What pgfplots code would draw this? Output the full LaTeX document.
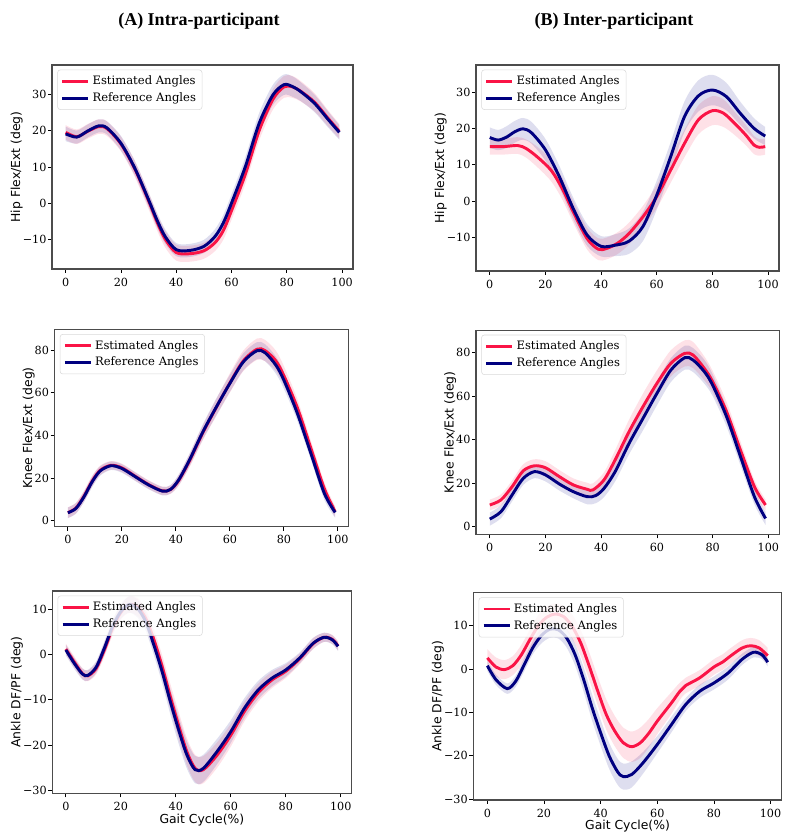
\documentclass[border=0pt]{standalone}
\usepackage{fontspec}
\setmainfont{DejaVu Serif}
\newfontfamily\titlefont{Liberation Serif}
\newfontfamily\labfont{DejaVu Sans}
\usepackage{pgfplots}
\pgfplotsset{compat=1.18}
\usepgfplotslibrary{fillbetween}
\usepackage{pgfplotstable}

\definecolor{est}{RGB}{250,20,70}
\definecolor{refc}{RGB}{0,0,128}

% ---------- Hip, intra ----------
\pgfplotstableread{
x y s
0 19.5 2.0
4 18.3 2.0
8 19.8 2.0
12 21.1 2.0
15 20.5 2.0
20 16.3 2.0
25 9.5 2.2
30 0.7 2.3
33 -5.0 2.3
36 -9.8 2.3
40 -13.5 2.2
45 -13.8 2.2
50 -13.0 2.2
54 -10.8 2.3
57 -7.5 2.5
60 -2.0 2.5
65 8.0 2.6
70 20.0 2.7
75 28.6 2.8
79 32.0 3.0
82 32.0 3.0
85 30.8 2.8
90 27.8 2.5
95 23.3 2.2
99 19.8 2.0
}\hipAe
\pgfplotstableread{
x y s
0 19.1 2.0
4 18.2 1.8
8 19.9 1.8
12 21.3 1.8
15 20.7 1.8
20 16.5 2.0
25 9.7 2.0
30 1.0 2.0
33 -4.5 2.0
36 -9.1 2.0
40 -12.7 1.8
45 -12.9 1.8
50 -11.8 1.8
54 -9.1 2.0
57 -5.4 2.2
60 0.1 2.4
65 10.1 2.6
70 22.0 2.8
75 29.8 2.8
79 32.6 2.8
82 32.1 2.8
85 30.7 2.6
90 27.5 2.4
95 23.0 2.2
99 19.5 2.0
}\hipAr
% ---------- Hip, inter ----------
\pgfplotstableread{
x y s
0 15.0 2.2
5 15.0 2.2
10 15.3 2.3
13 14.5 2.5
17 12.2 2.8
22 8.5 3.0
26 3.5 3.0
30 -3.0 3.0
35 -10.4 3.0
39 -13.3 3.0
42 -13.1 3.0
46 -11.6 3.0
50 -9.0 3.0
55 -4.4 3.0
60 1.2 3.2
65 8.5 3.5
70 15.9 3.8
75 22.4 4.0
80 24.9 4.0
84 24.2 3.8
88 21.4 3.2
92 18.2 2.8
95 15.4 2.5
97 14.8 2.3
99 15.0 2.2
}\hipBe
\pgfplotstableread{
x y s
0 17.5 2.8
3 16.8 2.8
6 17.6 3.0
9 19.1 3.0
12 19.9 3.0
15 18.8 3.0
20 14.1 3.0
25 6.7 3.0
30 -2.1 3.0
35 -9.4 3.0
40 -12.5 2.8
45 -12.2 3.0
50 -11.1 3.5
55 -7.1 4.0
60 1.6 4.0
65 12.2 4.0
70 23.3 4.2
75 29.0 4.3
80 30.6 4.2
85 28.8 3.8
90 24.2 3.2
95 20.0 2.8
99 17.9 2.5
}\hipBr
% ---------- Knee, intra ----------
\pgfplotstableread{
x y s
0 3.8 2.5
3 6.0 2.5
6 11.6 2.5
9 18.6 2.5
12 23.7 2.2
16 26.0 2.0
20 24.8 2.0
25 20.8 2.0
30 16.9 2.0
35 14.0 2.0
38 14.6 2.0
41 18.8 2.5
45 28.0 3.0
50 41.3 3.5
55 53.2 4.0
60 64.6 4.5
65 75.0 4.8
70 80.4 5.0
73 79.8 5.0
77 75.0 4.8
80 68.0 4.5
85 53.0 4.0
90 34.0 3.5
95 15.0 3.0
99 4.2 2.5
}\kneeAe
\pgfplotstableread{
x y s
0 3.75 2.5
3 5.8 2.5
6 11.3 2.5
9 18.3 2.5
12 23.4 2.2
16 25.8 2.0
20 24.5 2.0
25 20.6 2.0
30 16.7 2.0
35 13.9 2.0
38 14.7 2.0
41 19.1 2.5
45 28.4 3.0
50 41.7 3.5
55 53.4 4.0
60 64.4 4.0
65 74.5 4.0
70 79.7 4.0
73 78.8 4.0
77 73.0 4.0
80 65.9 4.0
85 50.3 3.5
90 31.6 3.0
95 12.8 3.0
99 3.9 2.5
}\kneeAr
% ---------- Knee, inter ----------
\pgfplotstableread{
x y s
0 10.0 2.5
4 12.3 2.5
8 18.4 2.8
12 25.7 3.0
16 28.0 3.0
20 27.1 3.0
25 23.0 3.0
30 19.2 3.0
35 17.2 3.0
37 16.9 3.0
41 21.5 3.5
45 30.7 4.5
50 43.7 5.5
55 55.2 6.0
60 65.9 6.0
65 75.1 6.0
70 79.7 6.0
73 78.9 6.0
77 72.8 5.5
80 66.7 5.0
85 52.9 4.5
90 35.2 4.0
95 18.4 3.0
99 10.0 2.5
}\kneeBe
\pgfplotstableread{
x y s
0 3.5 3.0
4 6.9 3.0
8 14.6 3.0
12 22.2 3.0
16 25.3 3.0
20 23.8 3.0
25 19.6 3.0
30 16.1 3.0
35 13.8 3.5
38 14.3 3.5
41 17.6 4.0
45 25.3 4.5
50 38.3 5.0
55 49.8 5.5
60 61.3 5.5
65 72.0 5.5
70 77.7 5.5
73 76.6 5.5
77 71.3 5.5
80 65.1 5.0
85 50.6 4.5
90 32.2 4.0
95 13.8 3.5
99 3.8 3.0
}\kneeBr
% ---------- Ankle, intra ----------
\pgfplotstableread{
x y s
0 1.2 1.2
3 -1.6 1.2
6 -4.2 1.2
8 -4.7 1.2
11 -3.1 1.3
14 1.0 1.5
17 5.8 1.5
20 9.3 1.6
23 11.0 1.8
26 10.5 2.0
29 8.0 2.0
32 3.3 2.2
35 -2.6 2.5
38 -9.3 2.8
41 -15.6 3.0
44 -21.4 3.0
47 -25.1 3.0
50 -25.4 3.0
55 -22.2 2.8
60 -17.8 2.5
65 -12.5 2.2
70 -8.4 2.0
75 -5.6 1.8
80 -3.7 1.5
85 -1.0 1.2
90 2.4 1.2
94 3.8 1.0
97 3.3 1.0
99 1.9 1.0
}\ankAe
\pgfplotstableread{
x y s
0 1.0 1.2
3 -1.9 1.2
6 -4.3 1.2
8 -4.6 1.2
11 -2.8 1.3
14 1.4 1.5
17 6.2 1.5
20 9.5 1.6
23 11.0 1.8
26 10.2 2.0
29 7.3 2.0
32 2.1 2.2
35 -3.75 2.5
38 -10.4 2.8
41 -16.6 3.0
44 -22.1 3.0
47 -25.4 3.0
50 -25.1 3.0
55 -21.4 2.8
60 -17.0 2.5
65 -11.8 2.2
70 -7.8 2.0
75 -5.2 1.8
80 -3.4 1.5
85 -0.8 1.2
90 2.5 1.2
94 3.8 1.0
97 3.2 1.0
99 1.8 1.0
}\ankAr
% ---------- Ankle, inter ----------
\pgfplotstableread{
x y s
0 2.6 2.0
3 0.5 2.2
6 -0.1 2.2
9 0.8 2.2
12 3.3 2.3
15 6.8 2.3
18 10.0 2.5
21 12.0 2.5
24 12.7 2.5
27 12.1 2.5
30 9.8 2.8
33 6.0 3.0
36 0.65 3.2
39 -5.1 3.3
42 -10.5 3.5
45 -14.3 3.5
48 -17.0 3.5
51 -17.9 3.5
54 -17.0 3.5
57 -14.8 3.3
60 -12.0 3.0
65 -7.8 2.5
68 -5.1 2.0
70 -3.8 1.8
75 -2.0 1.8
80 0.5 1.8
83 1.6 1.8
86 3.1 1.8
90 4.9 1.8
93 5.4 1.8
96 4.9 1.8
99 3.1 1.8
}\ankBe
\pgfplotstableread{
x y s
0 0.8 1.2
3 -2.4 1.2
7 -4.5 1.2
10 -2.8 1.3
13 1.0 1.5
16 4.9 1.5
19 7.7 1.8
22 9.2 2.0
25 9.1 2.0
28 7.2 2.2
31 3.3 2.5
34 -2.4 2.8
37 -8.9 3.0
40 -14.7 3.0
43 -20.0 3.0
46 -23.7 3.0
48 -24.8 3.0
51 -24.3 3.0
55 -21.6 2.5
60 -17.4 2.0
65 -12.8 1.8
70 -8.2 1.5
75 -5.1 1.5
80 -3.2 1.5
85 -0.9 1.5
90 2.3 1.3
94 3.9 1.2
97 3.3 1.0
99 1.6 1.0
}\ankBr

\newcommand\tickfont{\fontsize{8.4}{10}\selectfont}
\newcommand\legfont{\fontsize{8.7}{10.4}\selectfont}
\newcommand\axlabfont{\labfont\fontsize{9.3}{11}\selectfont}

\pgfplotsset{
  gait/.style={
    scale only axis,
    anchor=south west,
    xmin=-4.95, xmax=103.95,
    xtick={0,20,40,60,80,100},
    axis line style={black!70, line width=0.8pt},
    tick style={black, line width=0.6pt},
    tick align=outside,
    major tick length=3pt,
    tick pos=left,
    tick label style={font=\tickfont},
    yticklabel style={inner xsep=1pt},
    label style={font=\axlabfont},
    ylabel style={yshift=-4.5pt},
    xlabel style={yshift=4.5pt},
    /pgf/number format/assume math mode=true,
    legend style={at={(0,1)}, anchor=north west, xshift=4pt, yshift=-3.5pt,
      draw=black!15, rounded corners=2pt, fill=white, fill opacity=0.8,
      text opacity=1, font=\legfont, inner xsep=2.5pt, inner ysep=2.5pt,
      row sep=0.5pt},
    legend cell align=left,
    legend image code/.code={\draw[##1, line width=2.2pt] (0pt,0pt) -- (19.5pt,0pt);},
  },
  estline/.style={est, line width=2.2pt, smooth},
  refline/.style={refc, line width=2.2pt, smooth},
}

\newcommand\band[2]{%
  \addplot[draw=none, forget plot, smooth, name path=bu] table[x=x, y expr=\thisrow{y}+\thisrow{s}] {#1};
  \addplot[draw=none, forget plot, smooth, name path=bl] table[x=x, y expr=\thisrow{y}-\thisrow{s}] {#1};
  \addplot[fill=#2, fill opacity=0.13, draw=none, forget plot] fill between[of=bu and bl];
}
\newcommand\pair[2]{%
  \band{#1}{est}
  \band{#2}{refc}
  \addplot[estline] table[x=x, y=y] {#1};
  \addlegendentry{Estimated Angles}
  \addplot[refline] table[x=x, y=y] {#2};
  \addlegendentry{Reference Angles}
}

\begin{document}
\begin{tikzpicture}
\path (0,0) rectangle (593.25pt,627.75pt);

\node[font=\titlefont\fontsize{13.5}{15}\selectfont\bfseries] at (149.25pt,612pt) {(A) Intra-participant};
\node[font=\titlefont\fontsize{13.5}{15}\selectfont\bfseries] at (460.5pt,612pt) {(B) Inter-participant};

% Hip intra
\begin{axis}[gait, at={(39pt,426pt)}, width=225.75pt, height=153pt,
  ymin=-18, ymax=38, ytick={-10,0,10,20,30}, yticklabels={−10,0,10,20,30},
  ylabel={Hip Flex/Ext (deg)}]
\pair{\hipAe}{\hipAr}
\end{axis}
% Hip inter
\begin{axis}[gait, at={(357pt,424.5pt)}, width=227.25pt, height=154.5pt,
  ymin=-19.3, ymax=37.5, ytick={-10,0,10,20,30}, yticklabels={−10,0,10,20,30},
  ylabel={Hip Flex/Ext (deg)}]
\pair{\hipBe}{\hipBr}
\end{axis}
% Knee intra
\begin{axis}[gait, at={(40.9pt,232.7pt)}, width=220.5pt, height=148pt,
  ymin=-2.8, ymax=89.7, ytick={0,20,40,60,80},
  ylabel={Knee Flex/Ext (deg)}]
\pair{\kneeAe}{\kneeAr}
\end{axis}
% Knee inter
\begin{axis}[gait, at={(357pt,227pt)}, width=227.5pt, height=153.2pt,
  ymin=-3.5, ymax=90.4, ytick={0,20,40,60,80},
  ylabel={Knee Flex/Ext (deg)}]
\pair{\kneeBe}{\kneeBr}
\end{axis}
% Ankle intra
\begin{axis}[gait, at={(39.2pt,32.8pt)}, width=224.5pt, height=151.7pt,
  ymin=-30.6, ymax=14, ytick={-30,-20,-10,0,10}, yticklabels={−30,−20,−10,0,10},
  ylabel={Ankle DF/PF (deg)}, xlabel={Gait Cycle(\%)}]
\pair{\ankAe}{\ankAr}
\end{axis}
% Ankle inter
\begin{axis}[gait, at={(355pt,27.75pt)}, width=231.3pt, height=155.5pt,
  ymin=-30.2, ymax=17.65, ytick={-30,-20,-10,0,10}, yticklabels={−30,−20,−10,0,10},
  ylabel={Ankle DF/PF (deg)}, xlabel={Gait Cycle(\%)}]
\pair{\ankBe}{\ankBr}
\end{axis}
\end{tikzpicture}
\end{document}
